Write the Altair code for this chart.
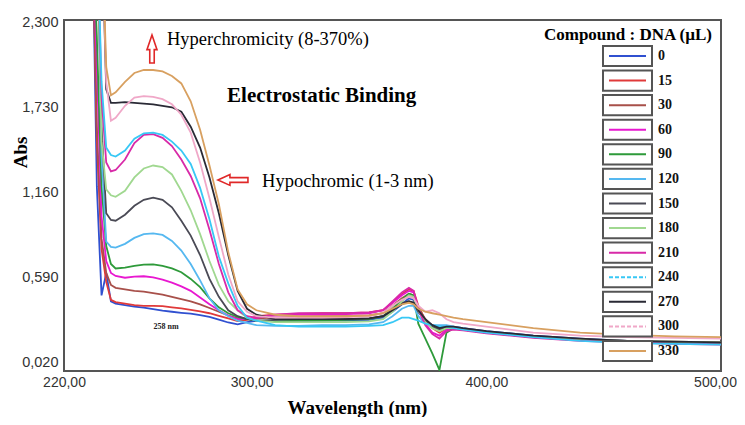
import altair as alt
import pandas as pd

# ---------------- data ----------------
WAVELENGTH = [232, 234, 236, 238, 240, 242, 246, 250, 254, 258, 262, 266, 270, 274, 278,
              282, 286, 290, 294, 298, 302, 310, 320, 330, 340, 350, 356, 360, 364, 367,
              369, 371, 374, 377, 380, 383, 386, 390, 400, 420, 440, 460, 480, 500]

A_0 = [3.0, 1.2, 0.47, 0.62, 0.43, 0.415, 0.405, 0.395, 0.388, 0.378, 0.368, 0.36, 0.353, 0.347, 0.338,
       0.325, 0.307, 0.288, 0.276, 0.29,
       0.30, 0.295, 0.295, 0.30, 0.30, 0.305, 0.32, 0.36, 0.41, 0.45, 0.44, 0.36, 0.30, 0.27, 0.25,
       0.26, 0.26, 0.25, 0.23, 0.20, 0.18, 0.165, 0.155, 0.15]
A_15 = [3.0, 1.5, 0.78, 0.56, 0.44, 0.425, 0.415, 0.405, 0.40, 0.40, 0.398, 0.39, 0.383, 0.373, 0.362,
        0.35, 0.333, 0.315, 0.298, 0.305,
        0.33, 0.34, 0.345, 0.35, 0.35, 0.355, 0.37, 0.42, 0.48, 0.51, 0.50, 0.40, 0.30, 0.25, 0.22,
        0.25, 0.25, 0.24, 0.22, 0.19, 0.17, 0.16, 0.155, 0.15]
A_30 = [3.0, 1.6, 0.85, 0.62, 0.54, 0.52, 0.51, 0.50, 0.495, 0.485, 0.475, 0.46, 0.445, 0.43, 0.41,
        0.385, 0.36, 0.335, 0.315, 0.31,
        0.315, 0.32, 0.325, 0.33, 0.33, 0.335, 0.35, 0.40, 0.45, 0.48, 0.47, 0.39, 0.31, 0.26, 0.24,
        0.26, 0.255, 0.245, 0.225, 0.195, 0.175, 0.165, 0.16, 0.155]
A_60 = [3.0, 2.0, 1.0, 0.70, 0.62, 0.60, 0.588, 0.595, 0.598, 0.59, 0.575, 0.555, 0.53, 0.50, 0.455,
        0.41, 0.37, 0.335, 0.31, 0.31,
        0.32, 0.335, 0.34, 0.34, 0.345, 0.35, 0.37, 0.42, 0.47, 0.50, 0.49, 0.38, 0.28, 0.22, 0.20,
        0.24, 0.25, 0.24, 0.22, 0.19, 0.17, 0.16, 0.15, 0.145]
A_90 = [3.0, 2.2, 1.2, 0.80, 0.68, 0.65, 0.655, 0.668, 0.676, 0.677, 0.668, 0.65, 0.625, 0.58, 0.525,
        0.45, 0.39, 0.35, 0.325, 0.31,
        0.30, 0.295, 0.30, 0.30, 0.305, 0.31, 0.33, 0.38, 0.44, 0.48, 0.47, 0.28, 0.18, 0.08, -0.03,
        0.22, 0.25, 0.24, 0.22, 0.19, 0.17, 0.16, 0.15, 0.145]
A_120 = [3.0, 3.0, 1.4, 0.83, 0.795, 0.79, 0.815, 0.855, 0.88, 0.885, 0.875, 0.835, 0.77, 0.68, 0.57,
         0.45, 0.37, 0.33, 0.30, 0.285,
         0.27, 0.265, 0.265, 0.27, 0.27, 0.275, 0.29, 0.33, 0.38, 0.40, 0.40, 0.33, 0.28, 0.27, 0.27,
         0.27, 0.26, 0.25, 0.22, 0.19, 0.17, 0.155, 0.15, 0.145]
A_150 = [3.0, 3.0, 1.6, 1.02, 0.975, 0.97, 1.01, 1.07, 1.11, 1.125, 1.11, 1.06, 0.97, 0.87, 0.74,
         0.58, 0.46, 0.37, 0.33, 0.31,
         0.30, 0.305, 0.31, 0.31, 0.31, 0.315, 0.33, 0.37, 0.42, 0.43, 0.42, 0.36, 0.30, 0.26, 0.24,
         0.25, 0.25, 0.24, 0.22, 0.19, 0.17, 0.16, 0.155, 0.15]
A_180 = [3.0, 3.0, 1.5, 1.18, 1.14, 1.13, 1.17, 1.26, 1.32, 1.34, 1.33, 1.28, 1.17, 1.04, 0.88,
         0.70, 0.54, 0.43, 0.37, 0.32,
         0.30, 0.29, 0.29, 0.29, 0.29, 0.295, 0.31, 0.36, 0.43, 0.47, 0.46, 0.37, 0.29, 0.25, 0.23,
         0.25, 0.25, 0.24, 0.22, 0.195, 0.175, 0.165, 0.16, 0.155]
A_210 = [3.0, 3.0, 1.8, 1.36, 1.30, 1.31, 1.38, 1.49, 1.545, 1.55, 1.525, 1.47, 1.38, 1.27, 1.12,
         0.91, 0.68, 0.49, 0.37, 0.33,
         0.32, 0.34, 0.35, 0.35, 0.35, 0.355, 0.37, 0.43, 0.49, 0.52, 0.50, 0.38, 0.27, 0.21, 0.18,
         0.23, 0.24, 0.235, 0.215, 0.185, 0.165, 0.155, 0.145, 0.14]
A_240 = [3.0, 3.0, 1.9, 1.46, 1.41, 1.40, 1.44, 1.52, 1.555, 1.56, 1.545, 1.50, 1.44, 1.35, 1.19,
         0.98, 0.73, 0.55, 0.40, 0.32,
         0.30, 0.27, 0.26, 0.26, 0.26, 0.265, 0.27, 0.29, 0.32, 0.32, 0.31, 0.30, 0.28, 0.27, 0.26,
         0.26, 0.25, 0.24, 0.22, 0.19, 0.165, 0.15, 0.145, 0.14]
A_270 = [3.0, 3.0, 3.0, 1.85, 1.76, 1.76, 1.765, 1.76, 1.755, 1.75, 1.74, 1.73, 1.70, 1.60, 1.46,
         1.26, 1.02, 0.74, 0.50, 0.38,
         0.34, 0.31, 0.31, 0.31, 0.31, 0.315, 0.33, 0.37, 0.41, 0.43, 0.42, 0.37, 0.31, 0.27, 0.25,
         0.26, 0.26, 0.25, 0.23, 0.20, 0.18, 0.165, 0.16, 0.155]
A_300 = [3.0, 3.0, 3.0, 1.9, 1.64, 1.66, 1.74, 1.795, 1.805, 1.80, 1.785, 1.75, 1.68, 1.56, 1.36,
         1.12, 0.86, 0.61, 0.43, 0.36,
         0.33, 0.32, 0.32, 0.32, 0.325, 0.33, 0.35, 0.40, 0.44, 0.46, 0.45, 0.40, 0.36, 0.37, 0.35,
         0.31, 0.29, 0.28, 0.26, 0.22, 0.20, 0.19, 0.185, 0.18]
A_330 = [3.0, 3.0, 3.0, 2.0, 1.81, 1.83, 1.90, 1.96, 1.98, 1.98, 1.97, 1.94, 1.89, 1.77, 1.58,
         1.34, 1.08, 0.76, 0.51, 0.41,
         0.37, 0.34, 0.33, 0.33, 0.33, 0.335, 0.35, 0.38, 0.41, 0.42, 0.41, 0.38, 0.36, 0.35, 0.34,
         0.33, 0.32, 0.31, 0.29, 0.25, 0.22, 0.205, 0.195, 0.19]

SERIES_LABELS = ["0", "15", "30", "60", "90", "120", "150", "180", "210", "240", "270", "300", "330"]
SERIES_VALUES = [A_0, A_15, A_30, A_60, A_90, A_120, A_150, A_180, A_210, A_240, A_270, A_300, A_330]
SERIES_COLORS = ["#3050d0", "#e03a3a", "#a8504a", "#e818d0", "#2e9a3a", "#55b8f0", "#4a4a55",
                 "#a0d890", "#d82aa8", "#38c8f5", "#2a2a35", "#f0a8c8", "#d8a060"]
DASHED_IN_LEGEND = ["240", "300"]

X_TICKS = [220, 300, 400, 500]
Y_TICKS = [0.02, 0.59, 1.16, 1.73, 2.3]

LEGEND_TITLE = "Compound : DNA (µL)"

NOTE_REGULAR = ["Hyperchromicity (8-370%)", "Hypochromic (1-3 nm)"]
NOTE_REGULAR_WL = [263.9, 304.4]
NOTE_REGULAR_A = [2.188, 1.236]
NOTE_BOLD = ["Electrostatic Binding"]
NOTE_BOLD_WL = [289.5]
NOTE_BOLD_A = [1.806]
NOTE_SMALL = ["258 nm"]
NOTE_SMALL_WL = [263.5]
NOTE_SMALL_A = [0.258]
UP_ARROW_WL, UP_ARROW_A = [257.5], [2.121]
LEFT_ARROW_WL, LEFT_ARROW_A = [292.0], [1.243]

# ---------------- build ----------------
rows = []
for lab, vals in zip(SERIES_LABELS, SERIES_VALUES):
    for w, a in zip(WAVELENGTH, vals):
        rows.append({"series": lab, "wl": w, "A": a})
df = pd.DataFrame(rows)

X_SCALE = alt.Scale(domain=[220, 500], nice=False, zero=False)
Y_SCALE = alt.Scale(domain=[-0.037, 2.315], nice=False, zero=False)
SERIF = "Liberation Serif"
SANS = "Liberation Sans"

x_axis = alt.Axis(values=X_TICKS, labelExpr="replace(format(datum.value, '.2f'), '.', ',')",
                  title="Wavelength (nm)", grid=False, ticks=False, domain=False,
                  labelFlush=False, labelOverlap=False, labelFont=SANS, labelFontSize=14,
                  labelColor="#333", labelPadding=4,
                  labelOffset={"condition": {"test": "datum.value == 500", "value": -6}, "value": 0},
                  titleFont=SERIF, titleFontSize=19,
                  titleFontWeight="bold", titleColor="#000", titleX=293, titleY=42,
                  titleBaseline="alphabetic", titleAlign="center")
y_axis = alt.Axis(values=Y_TICKS, labelExpr="replace(format(datum.value, '.3f'), '.', ',')",
                  title="Abs", grid=False, ticks=False, domain=False, labelFont=SANS,
                  labelFontSize=14.5, labelColor="#333", labelPadding=6, titleFont=SERIF,
                  titleFontSize=19, titleFontWeight="bold", titleColor="#000", titleX=-44,
                  titleY=132, titleBaseline="middle", titleAlign="center", titleAngle=270)

X_ENC = alt.X("wl:Q", scale=X_SCALE, axis=x_axis)
color_enc = alt.Color("series:N", scale=alt.Scale(domain=SERIES_LABELS, range=SERIES_COLORS), legend=None)

lines = alt.Chart(df).mark_line(clip=True, strokeWidth=1.8).encode(
    x=X_ENC,
    y=alt.Y("A:Q", scale=Y_SCALE, axis=y_axis),
    color=color_enc,
    order="wl:Q",
)


def note_layer(texts, wls, As, **kw):
    d = pd.DataFrame({"text": texts, "wl": wls, "A": As})
    return alt.Chart(d).mark_text(**kw).encode(
        x=X_ENC,
        y=alt.Y("A:Q", scale=Y_SCALE, axis=None),
        text="text:N",
    )


notes1 = note_layer(NOTE_REGULAR, NOTE_REGULAR_WL, NOTE_REGULAR_A, align="left", baseline="middle",
                    font=SERIF, fontSize=18.5, color="#000")
notes2 = note_layer(NOTE_BOLD, NOTE_BOLD_WL, NOTE_BOLD_A, align="left", baseline="middle",
                    font=SERIF, fontSize=21, fontWeight="bold", color="#000")
notes3 = note_layer(NOTE_SMALL, NOTE_SMALL_WL, NOTE_SMALL_A, align="center", baseline="middle",
                    font=SERIF, fontSize=8, fontWeight="bold", color="#222")

UP_PATH = "M0,-1L0.36,0.05L0.16,0.05L0.16,1L-0.16,1L-0.16,0.05L-0.36,0.05Z"
LEFT_PATH = "M-1,0L-0.2,-0.36L-0.2,-0.16L1,-0.16L1,0.16L-0.2,0.16L-0.2,0.36Z"


def arrow_layer(wls, As, path, size):
    d = pd.DataFrame({"wl": wls, "A": As})
    return alt.Chart(d).mark_point(shape=path, size=size, filled=True, fill="white",
                                   stroke="#e02828", strokeWidth=1.6, opacity=1).encode(
        x=X_ENC,
        y=alt.Y("A:Q", scale=Y_SCALE, axis=None),
    )


up_arrow = arrow_layer(UP_ARROW_WL, UP_ARROW_A, UP_PATH, 784)
left_arrow = arrow_layer(LEFT_ARROW_WL, LEFT_ARROW_A, LEFT_PATH, 900)

# manual boxed legend
legend_df = pd.DataFrame({"series": SERIES_LABELS})
leg_y = alt.Y("series:N", scale=alt.Scale(type="point", domain=SERIES_LABELS, range=[36, 331], padding=0),
              axis=None)
BOX_PATH = "M-1,-0.41L1,-0.41L1,0.41L-1,0.41Z"
boxes = alt.Chart(legend_df).mark_point(shape=BOX_PATH, size=2401, filled=True, fill="white",
                                        stroke="#555", strokeWidth=2, opacity=1).encode(
    x=alt.value(563.5), y=leg_y)
leg_rules = alt.Chart(legend_df).mark_rule(strokeWidth=2).encode(
    x=alt.value(545), x2=alt.value(582), y=leg_y, color=color_enc,
    strokeDash=alt.condition(alt.FieldOneOfPredicate(field="series", oneOf=DASHED_IN_LEGEND),
                             alt.value([4, 2]), alt.value([1, 0])))
leg_labels = alt.Chart(legend_df).mark_text(align="left", baseline="middle", font=SERIF,
                                            fontWeight="bold", fontSize=14, color="#111").encode(
    x=alt.value(594), y=leg_y, text="series:N")
leg_title = alt.Chart(pd.DataFrame({"t": [LEGEND_TITLE]})).mark_text(
    align="right", baseline="middle", font=SERIF, fontWeight="bold", fontSize=17, color="#000").encode(
    x=alt.value(648), y=alt.value(15), text="t:N")

chart = alt.layer(
    lines, notes1, notes2, notes3, up_arrow, left_arrow, boxes, leg_rules, leg_labels, leg_title
).resolve_scale(y="independent").properties(
    width=657, height=351,
    autosize=alt.AutoSizeParams(type="none"),
    padding={"left": 56, "top": 12, "right": 16, "bottom": 46},
    background="white",
).configure_view(stroke="#555", strokeWidth=2)

chart.save("out.html", embed_options={"renderer": "svg", "actions": False})
